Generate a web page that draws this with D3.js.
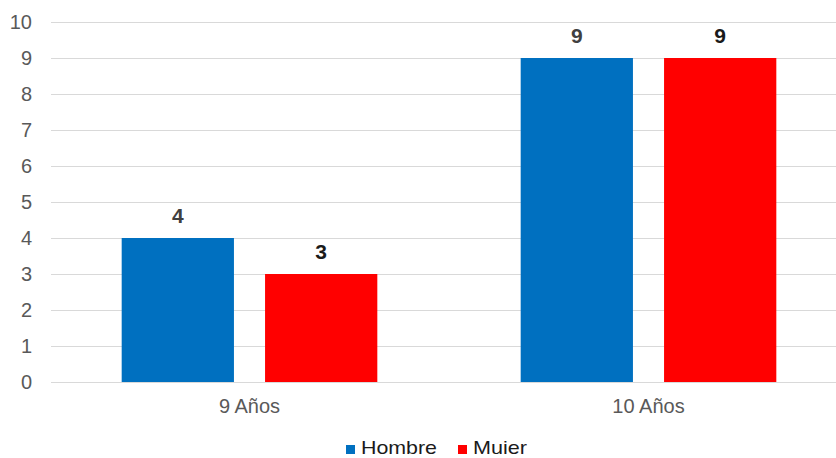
<!DOCTYPE html>
<html>
<head>
<meta charset="utf-8">
<script src="https://cdn.jsdelivr.net/npm/d3@7"></script>
<style>
  html, body { margin: 0; padding: 0; background: #fff; }
  svg { display: block; font-family: "Liberation Sans", Arial, sans-serif; }
</style>
</head>
<body>
<svg id="chart" width="836" height="458"></svg>
<script>
const categories = ["9 Años", "10 Años"];
const seriesNames = ["Hombre", "Mujer"];
const legendLabels = ["Hombre", "Muier"];
const hombre = [4, 9];
const mujer = [3, 9];
const yTicks = [0, 1, 2, 3, 4, 5, 6, 7, 8, 9, 10];
const colors = ["#0070C0", "#FF0000"];
const labelColors = ["#404040", "#1a1a1a"];

const svg = d3.select("#chart");
const plotLeft = 50, plotRight = 848, plotTop = 22, plotBottom = 382;

const x = d3.scaleBand().domain(categories).range([plotLeft, plotRight]).paddingInner(0).paddingOuter(0);
const xSub = d3.scaleBand().domain(seriesNames).range([0, x.bandwidth()]).paddingInner(0.217).paddingOuter(0.5);
const y = d3.scaleLinear().domain([0, 10]).range([plotBottom, plotTop]);

// horizontal gridlines
svg.append("g")
  .selectAll("line")
  .data(yTicks)
  .join("line")
  .attr("x1", plotLeft + 1).attr("x2", 836)
  .attr("y1", d => Math.round(y(d)) + 0.5).attr("y2", d => Math.round(y(d)) + 0.5)
  .attr("stroke", "#d9d9d9").attr("stroke-width", 1);

// y axis tick labels
const yAxis = d3.axisLeft(y).tickValues(yTicks).tickSize(0).tickPadding(0);
const yg = svg.append("g").attr("transform", `translate(${plotLeft - 18},0)`).call(yAxis);
yg.select(".domain").remove();
yg.selectAll("text").attr("fill", "#595959").style("font-size", "20px").style("font-family", "'Liberation Sans', Arial, sans-serif");

// x axis category labels
const xAxis = d3.axisBottom(x).tickSize(0).tickPadding(0);
const xg = svg.append("g").attr("transform", `translate(0,${plotBottom + 17})`).call(xAxis);
xg.select(".domain").remove();
xg.selectAll("text").attr("fill", "#595959").style("font-size", "20px").style("font-family", "'Liberation Sans', Arial, sans-serif");

const data = [hombre, mujer];
data.forEach((vals, si) => {
  const g = svg.append("g");
  g.selectAll("rect")
    .data(vals)
    .join("rect")
    .attr("x", (d, i) => x(categories[i]) + xSub(seriesNames[si]))
    .attr("width", xSub.bandwidth())
    .attr("y", d => y(d))
    .attr("height", d => y(0) - y(d))
    .attr("fill", colors[si]);
  g.selectAll("text")
    .data(vals)
    .join("text")
    .attr("x", (d, i) => x(categories[i]) + xSub(seriesNames[si]) + xSub.bandwidth() / 2)
    .attr("y", d => y(d) - 15)
    .attr("text-anchor", "middle")
    .attr("fill", labelColors[si])
    .style("font-size", "21px")
    .style("font-weight", "bold")
    .text(d => d);
});

// legend
const legend = svg.append("g");
const legendX = [346, 458];
legendLabels.forEach((name, i) => {
  legend.append("rect")
    .attr("x", legendX[i]).attr("y", 445)
    .attr("width", 9).attr("height", 9)
    .attr("fill", colors[i]);
  legend.append("text")
    .attr("x", legendX[i] + 15).attr("y", 454)
    .attr("fill", "#1a1a1a")
    .style("font-size", "19px")
    .attr("textLength", i === 0 ? 76 : 54)
    .attr("lengthAdjust", "spacingAndGlyphs")
    .text(name);
});
</script>
</body>
</html>
